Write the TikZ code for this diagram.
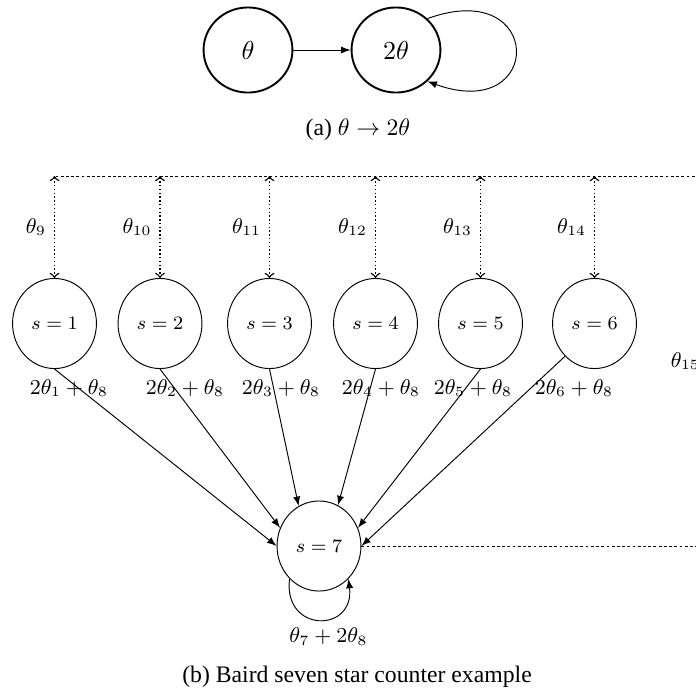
\documentclass[tikz,border=0pt]{standalone}
\usepackage[no-math]{fontspec}
\setmainfont{Liberation Serif}
\usetikzlibrary{shapes.geometric}

\begin{document}
\begin{tikzpicture}[x=0.4219pt, y=-0.4219pt,
  big/.style={draw, thick, ellipse, inner sep=0pt, minimum width=37.5pt, minimum height=35.9pt, font=\fontsize{11}{13}\selectfont},
  state/.style={draw, ellipse, inner sep=0pt, minimum width=35.4pt, minimum height=38pt, font=\fontsize{7.8}{9}\selectfont},
  lbl/.style={font=\fontsize{8.8}{10}\selectfont},
  feat/.style={<->, densely dotted, semithick},
  fine/.style={dash pattern=on 1.2pt off 1pt}]
\useasboundingbox (0,0) rectangle (696,694);
\clip (0,0) rectangle (696,694);

% (a)
\node[big] (th) at (248,50) {$\theta$};
\node[big] (tth) at (396,50) {$2\theta$};
\draw[-latex] (th) -- (tth);
\draw[-latex] (tth.45) .. controls +(-20:125) and +(20:125) .. (tth.-45);
\node (capa) at (358,130) {(a) $\theta\rightarrow 2\theta$};

% (b)
\foreach \i/\x in {1/54.5,2/160,3/269.5,4/375.5,5/480.5,6/594.5}
  \node[state] (s\i) at (\x,323.5) {$s=\i$};
\node[state] (s7) at (319,546) {$s=7$};
\coordinate (top) at (708,176);

\draw[fine] (s7.east) -- (s7.east -| top) -- node[left, lbl] {$\theta_{15}$} (top) -- (s1 |- top);
\foreach \i/\t in {1/9,2/10,3/11,4/12,5/13,6/14}
  \draw[feat] (s\i |- top) -- node[left, lbl] {$\theta_{\t}$} (s\i);

\foreach \i/\f/\t in {1/south/west,2/south/155,3/south/117,4/south/65,5/south/25,6/-132/east}
  \draw[-latex] (s\i.\f) -- (s7.\t);
\foreach \i/\x in {1/69,2/185,3/281,4/381,5/473,6/574}
  \node[lbl] (w\i) at (\x,388) {$2\theta_{\i}+\theta_8$};

\draw[-latex] (s7.-132) .. controls +(97:55) and +(83:55) .. node[below, lbl, xshift=4pt] (w7) {$\theta_7+2\theta_8$} (s7.-48);

\node (capb) at (357,677) {(b) Baird seven star counter example};
\end{tikzpicture}
\end{document}
